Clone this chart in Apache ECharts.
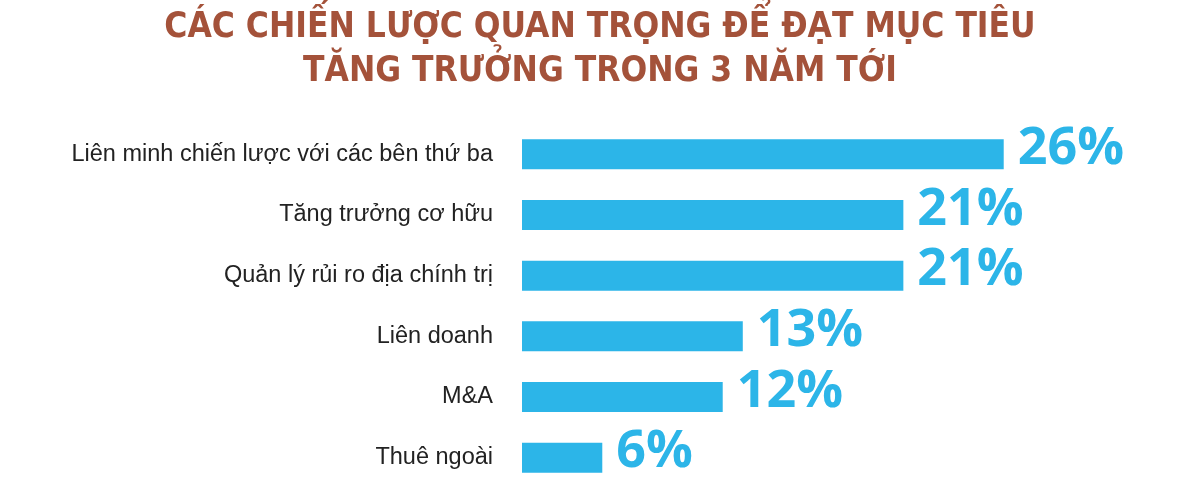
<!DOCTYPE html>
<html><head><meta charset="utf-8">
<script src="https://cdn.jsdelivr.net/npm/echarts@6/dist/echarts.min.js"></script>
<style>html,body{margin:0;padding:0;background:#fff}#c{width:1200px;height:501px}</style>
</head><body><div id="c"></div>
<script>
const title = 'CÁC CHIẾN LƯỢC QUAN TRỌNG ĐỂ ĐẠT MỤC TIÊU\nTĂNG TRƯỞNG TRONG 3 NĂM TỚI';
const categories = ['Liên minh chiến lược với các bên thứ ba','Tăng trưởng cơ hữu','Quản lý rủi ro địa chính trị','Liên doanh','M&A','Thuê ngoài'];
const values = [26, 21, 21, 13, 12, 6];

const chart = echarts.init(document.getElementById('c'));
chart.setOption({
  backgroundColor: '#fff',
  animation: false,
  title: {
    text: title, left: 'center', top: 1,
    textStyle: {fontFamily: '"Liberation Sans Narrow","DejaVu Sans Condensed","Open Sans",sans-serif', fontWeight: 'bold', fontSize: 35, lineHeight: 44, color: '#a4523a'}
  },
  grid: {left: 522, right: 116, top: 124, bottom: 13, containLabel: false},
  xAxis: {type: 'value', min: 2, max: 30, show: false},
  yAxis: {
    type: 'category', data: categories, inverse: true,
    axisLine: {show: false}, axisTick: {show: false},
    axisLabel: {margin: 29, fontFamily: '"Liberation Sans",Arial,sans-serif', fontSize: 23.5, color: '#222'}
  },
  series: [{
    type: 'bar', data: values, barWidth: 30,
    itemStyle: {color: '#2cb5e8'},
    label: {show: true, position: 'right', distance: 14, offset: [0, -5], formatter: '{c}%',
      fontFamily: '"Open Sans",sans-serif', fontWeight: 'bold', fontSize: 52, color: '#2cb5e8'}
  }]
});
</script></body></html>
